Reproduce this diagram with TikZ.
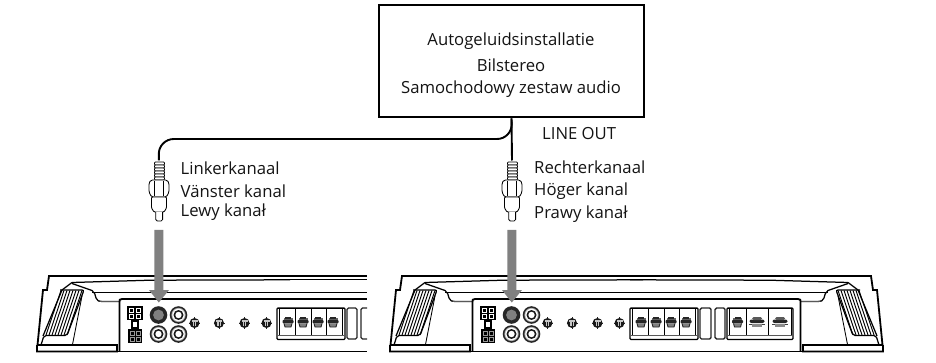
\documentclass[tikz,border=0pt]{standalone}
\usepackage{fontspec}
\setmainfont{Open Sans}
\tikzset{
 boxstyle/.style={draw=black,line width=2.4pt,fill=white,minimum width=265pt,minimum height=112.5pt,inner sep=0pt},
 lbl/.style={font=\fontsize{16.7}{19}\selectfont,inner sep=0pt,anchor=west,text=black!92},
 boxlbl/.style={font=\fontsize{16.7}{19}\selectfont,inner sep=0pt,text=black!92},
 cable/.style={line width=1.9pt,draw=black},
 thin ln/.style={line width=.85pt,draw=black},
 med ln/.style={line width=1.25pt,draw=black},
 heavy ln/.style={line width=1.8pt,draw=black},
 arrowfill/.style={fill=black!50,draw=none},
}
\newcommand{\plugshape}{%
 \foreach \yy in {162,165,...,178} {\draw[line width=.7pt,draw=black,fill=white,rounded corners=.8pt] (154.5,\yy) rectangle (164.5,\yy+3);}
 \draw[thin ln,fill=white,rounded corners=1.5pt] (151,180)--(167,180)--(169,183)--(169,192)--(166.5,197)--(151.5,197)--(149,192)--(149,183)--cycle;
 \draw[thin ln] (154.5,181)--(154.5,196.5) (163.5,181)--(163.5,196.5);
 \draw[thin ln,fill=white,rounded corners=1pt] (151.5,197)--(166.5,197)--(166.5,208)--(164,212)--(154,212)--(151.5,208)--cycle;
 \draw[thin ln,fill=white,rounded corners=1.5pt] (155.8,212)--(155.8,221)--(162.6,221)--(162.6,212);
}
\newcommand{\garrow}{%
 \fill[arrowfill] (154.3,230)--(163.3,230)--(163.3,290)--(169,290)--(158.8,302.5)--(149,290)--(154.3,290)--cycle;
}
\newcommand{\rcajack}[3]{%
 \fill[black!85] (#1,#2) circle (8.8);
 \fill[black!30] (#1,#2) circle (7.1);
 \fill[white] (#1,#2) circle (6.2);
 \fill[black!90] (#1,#2) circle (5);
 \fill[#3] (#1,#2) circle (3.2);
}
\newcommand{\knob}[2]{%
 \draw[line width=.6pt,black!85] (#1,#2-5.8)--(#1,#2+5.8) (#1-5.5,#2)--(#1+5.5,#2);
 \fill[black!90] (#1,#2) circle (5);
 \fill[black!22] (#1-3,#2-3) rectangle (#1+3,#2-1.5);
 \fill[black!22] (#1-1.6,#2-3) rectangle (#1-.5,#2+3);
 \fill[black!22] (#1+.5,#2-3) rectangle (#1+1.6,#2+3);
}
\newcommand{\screw}[2]{%
 \fill[black!60] (#1-4.5,#2-3.8) rectangle (#1+4.5,#2-1.8);
 \fill[black!85] (#1-3,#2-5) rectangle (#1+3,#2-3.4);
 \fill[black!85,rounded corners=1pt] (#1-5.5,#2-2.2) rectangle (#1+5.5,#2+1.4);
 \fill[black!50] (#1-4,#2+1.4) -- (#1-3,#2+5) -- (#1+3,#2+5) -- (#1+4,#2+1.4) -- cycle;
 \draw[line width=.9pt,black!85] (#1-4,#2+1.4)--(#1-3,#2+5)--(#1+3,#2+5)--(#1+4,#2+1.4);
}
\newcommand{\ovalscrew}[2]{%
 \fill[black!85,rounded corners=2pt] (#1-7.5,#2-2.5) rectangle (#1+7.5,#2+1);
 \fill[black!65,rounded corners=1.5pt] (#1-5,#2-5) rectangle (#1+5,#2-2);
 \draw[line width=1pt,black!75] (#1-8,#2+2)--(#1+8,#2+2);
 \fill[black!45] (#1-5,#2+2.3) rectangle (#1+5,#2+5);
}
% one end of the amplifier, with the rails running to local x=290
\newcommand{\wingend}{%
 \draw[heavy ln,fill=white] (290,276)--(49,276)--(47,290)--(43,290)--(37.5,345)--(117,345)--(117,351.5)--(37,351.5)--(37,345);
 \draw[heavy ln] (37,351.5)--(290,351.5);
 \draw[med ln] (72,282.5)--(150,280.2)--(290,279.8);
 \draw[med ln] (72,283.5)--(92,290.5)..controls(95,292)and(95,295)..(96,298)..controls(97,301)and(99,301.5)..(102,301.5)--(120,301.5);
 \draw[line width=1.9pt,black!65] (100,301.5)--(119,301.5);
 \draw[thin ln] (92,292)--(290,292);
 \draw[med ln] (72,282.5)--(62,290)--(43,336);
 \draw[thin ln] (82,296)--(72.5,344.5);
 \foreach \ff in {0,1,...,7} {\draw[line width=.95pt,black] (61+\ff*3,290.5)--(46+\ff*3,335);}
 \draw[med ln,rounded corners=2pt] (60,290)--(84,290)--(67,335.5)--(44,335.5)--(41,345);
 \draw[heavy ln] (119.5,351)--(119.5,301.5)..controls(119.5,299.5)..(122,299)--(290,299);
}
\newcommand{\ampcontrols}{%
 \fill[black] (127,306) rectangle (143,320);
 \foreach \xx/\yy in {129/308,136/308,129/314,136/314} {\draw[white,line width=.8pt] (\xx,\yy) rectangle (\xx+4.5,\yy+4);}
 \draw[med ln,fill=white] (132,321) rectangle (138,328);
 \fill[black] (128,329) rectangle (142,343);
 \foreach \xx/\yy in {130/331,136/331,130/337,136/337} {\draw[black!40,line width=.6pt] (\xx,\yy) rectangle (\xx+4,\yy+4);}
 \rcajack{178.5}{315}{white}
 \rcajack{158.5}{334}{white}
 \rcajack{178.5}{334}{white}
 \fill[black!85] (158.5,315) circle (8.8);
 \fill[black!50] (158.5,315) circle (5.4);
 \knob{194.5}{323}\knob{219}{323}\knob{244.5}{323}\knob{266.5}{323}
}
\newcommand{\termblock}[1]{%
 \begin{scope}[shift={(#1,0)}]
 \draw[med ln,rounded corners=1pt,fill=white] (0,308)--(0,339.5)--(68,339.5)--(68,308)--cycle;
 \draw[line width=1.6pt,black!65] (1,335.5)--(67,335.5);
 \draw[med ln] (0,308.8)--(68,308.8);
 \foreach \xx in {2.5,18,34,49,65} {\draw[thin ln] (\xx,308.8)--(\xx,335);}
 \screw{11}{322}\screw{26}{322}\screw{41}{322}\screw{56}{322}
 \end{scope}
}
\newcommand{\slotbox}[2]{\draw[line width=1.4pt,black!85,rounded corners=1.5pt] (#1,308)--(#2,308)--(#2,339)--(#1,339)--cycle;}
\begin{document}
\begin{tikzpicture}[x=1pt,y=-1pt]
\useasboundingbox (0,0) rectangle (936,363);
% left amplifier, cut off at x=367
\begin{scope}
 \clip (0,270) rectangle (367,363);
 \wingend
 \draw[heavy ln] (290,276)--(367,276) (290,351.5)--(367,351.5) (290,299)--(367,299);
 \draw[med ln] (290,279.8)--(367,279.8);
 \draw[thin ln] (290,292)--(367,292);
 \ampcontrols
 \termblock{277}
 \slotbox{347}{357}
 \slotbox{361}{372}
\end{scope}
% right amplifier
\begin{scope}[shift={(353,0)}]
 \wingend
 \ampcontrols
 \termblock{277}
 \slotbox{347}{358}
 \slotbox{362}{372}
\end{scope}
\begin{scope}[xscale=-1,shift={(-920,0)}]
 \wingend
\end{scope}
\draw[med ln,rounded corners=1pt,fill=white] (727,308)--(727,339.5)--(793,339.5)--(793,308)--cycle;
\draw[line width=1.6pt,black!65] (728,335.5)--(792,335.5);
\draw[med ln] (727,308.8)--(793,308.8);
\draw[thin ln] (729.5,308.8)--(729.5,335) (746,308.8)--(746,335) (768,308.8)--(768,335) (791,308.8)--(791,335);
\screw{737.5}{322}
\ovalscrew{757}{322}
\ovalscrew{780}{322}
% grey arrows
\garrow
\begin{scope}[shift={(353,0)}]\garrow\end{scope}
% head unit
\node[boxstyle] (unit) at (511.5,61) {};
\node[boxlbl] (t1) at (511,41.5) {Autogeluidsinstallatie};
\node[boxlbl] (t2) at (511,65.5) {Bilstereo};
\node[boxlbl] (t3) at (511,89) {Samochodowy zestaw audio};
\coordinate (plugL) at (158.8,160.5);
\coordinate (plugR) at (512,160.5);
\coordinate (turnL) at (158.8,139);
% cables
\draw[cable,rounded corners=15pt] (unit.south) -- (512,139) -- (turnL) -- (plugL);
\draw[cable] (unit.south) -- (plugR);
% plugs
\plugshape
\begin{scope}[shift={(353,0)}]\plugshape\end{scope}
% labels
\node[lbl] (l1) at (180.5,168) {Linkerkanaal};
\node[lbl] (l2) at (180.5,191.5) {Vänster kanal};
\node[lbl] (l3) at (180.5,212.5) {Lewy kanał};
\node[lbl] (r1) at (534,167.5) {Rechterkanaal};
\node[lbl] (r2) at (534,191) {Höger kanal};
\node[lbl] (r3) at (534,214.5) {Prawy kanał};
\node[lbl] (lo) at (542,133.5) {LINE OUT};
\end{tikzpicture}
\end{document}
